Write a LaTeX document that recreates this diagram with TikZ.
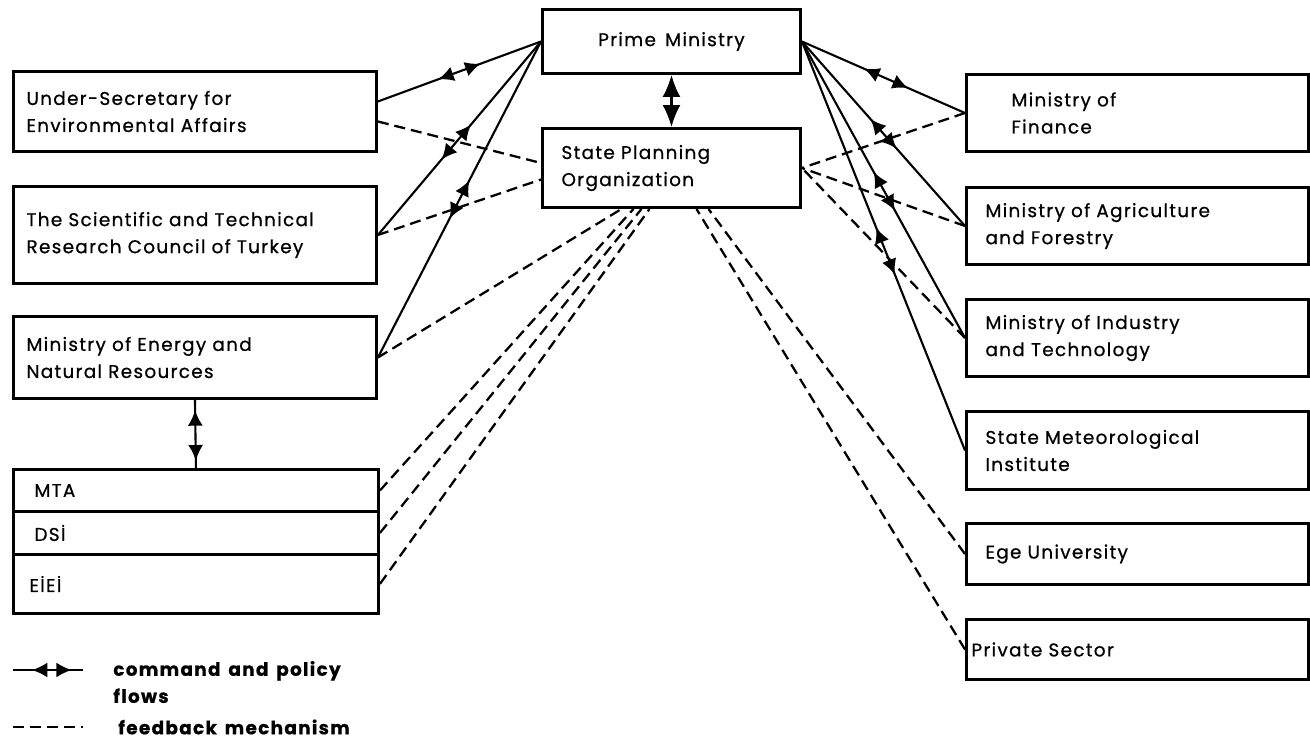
\documentclass[tikz,border=0pt]{standalone}
\usepackage{fontspec}
\setmainfont{Poppins}[LetterSpace=7,WordSpace=1.5,FakeBold=0.7]
\usetikzlibrary{arrows.meta,decorations.markings}

\tikzset{
  box/.style={draw,line width=1.7pt,rectangle,anchor=north west,align=left,
    font=\fontsize{10.5}{15.4}\selectfont,inner ysep=0pt},
  lbox/.style={box,minimum width=7.26cm,text width=6.74cm,inner xsep=0.26cm},
  rbox/.style={box,minimum width=6.84cm,text width=6.08cm,inner xsep=0.38cm},
  conn/.style={line width=1.2pt},
  fb/.style={conn,line width=1.3pt,dash pattern=on 0.22cm off 0.12cm},
  cmd/.style 2 args={conn,postaction={decorate},decoration={markings,
    mark=at position #1 with {\arrowreversed{Latex[length=0.31cm,width=0.3cm]}},
    mark=at position #2 with {\arrow{Latex[length=0.31cm,width=0.3cm]}}}},
  legtxt/.style={font=\fontsize{10.5}{15.4}\selectfont\bfseries,align=left,inner sep=0pt}
}

\begin{document}
\begin{tikzpicture}[x=0.02cm,y=-0.02cm]
\useasboundingbox (0,0) rectangle (1310,740);

\node[box,minimum width=5.16cm,minimum height=1.28cm,align=center] (pm) at (541,8) {Prime Ministry};
\node[box,minimum width=5.16cm,minimum height=1.58cm,text width=4.4cm,inner xsep=0.38cm] (spo) at (541,127) {State Planning\\Organization};

\node[lbox,minimum height=1.6cm] (us) at (12,70) {Under-Secretary for\\Environmental Affairs};
\node[lbox,minimum height=1.94cm] (stc) at (12,185) {The Scientific and Technical\\Research Council of Turkey};
\node[lbox,minimum height=1.64cm] (mene) at (12,315) {Ministry of Energy and\\Natural Resources};

\node[box,minimum width=7.3cm,minimum height=0.84cm,text width=6.46cm,inner xsep=0.42cm] (mta) at (12,468) {MTA};
\node[box,minimum width=7.3cm,minimum height=0.86cm,text width=6.46cm,inner xsep=0.42cm] (dsi) at (12,510) {DSİ};
\node[box,minimum width=7.3cm,minimum height=1.18cm,text width=6.66cm,inner xsep=0.32cm] (eiei) at (12,553) {EİEİ};

\node[rbox,minimum height=1.54cm,text width=5.04cm,inner xsep=0.9cm] (fin) at (965,73) {Ministry of\\Finance};
\node[rbox,minimum height=1.54cm] (agr) at (965,186) {Ministry of Agriculture\\and Forestry};
\node[rbox,minimum height=1.54cm] (ind) at (965,298) {Ministry of Industry\\and Technology};
\node[rbox,minimum height=1.56cm] (met) at (965,410) {State Meteorological\\Institute};
\node[rbox,minimum height=1.22cm] (ege) at (965,522) {Ege University};
\node[rbox,minimum height=1.2cm,text width=6.64cm,inner xsep=0.1cm] (prv) at (965,618) {Private Sector};

% command and policy flows
\draw[conn,{Latex[length=0.44cm,width=0.36cm]}-{Latex[length=0.44cm,width=0.36cm]}] (spo.north) -- (pm.south);
\draw[cmd={0.37}{0.63}] ([yshift=0.2cm]us.east) -- (pm.west);
\draw[cmd={0.39}{0.57}] (stc.east) -- (pm.west);
\draw[cmd={0.44}{0.56}] (mene.east) -- (pm.west);
\draw[cmd={0.35}{0.62}] (fin.west) -- (pm.east);
\draw[cmd={0.42}{0.58}] (agr.west) -- (pm.east);
\draw[cmd={0.43}{0.56}] (ind.west) -- (pm.east);
\draw[cmd={0.43}{0.545}] (met.west) -- (pm.east);
\draw[cmd={0.11}{0.85}] (mta.north) -- (mene.south);

% feedback
\draw[fb] ([yshift=-0.2cm]us.east) -- ([yshift=0.1cm]spo.west);
\draw[fb] (stc.east) -- ([yshift=-0.23cm]spo.west);
\draw[fb] (mene.east) -- ([xshift=-1.0cm]spo.south);
\draw[fb] (mta.east) -- ([xshift=-0.76cm]spo.south);
\draw[fb] (dsi.east) -- ([xshift=-0.6cm]spo.south);
\draw[fb] (eiei.east) -- ([xshift=-0.44cm]spo.south);
\draw[fb] (fin.west) -- (spo.east);
\draw[fb] (agr.west) -- (spo.east);
\draw[fb] (ind.west) -- (spo.east);
\draw[fb] (ege.west) -- ([xshift=0.74cm]spo.south);
\draw[fb] (prv.west) -- ([xshift=0.5cm]spo.south);

% legend
\coordinate (lga) at (13,670);
\coordinate (lgb) at (83,670);
\draw[cmd={0.27}{0.84}] (lga) -- (lgb);
\node[legtxt,anchor=west] (lgt) at (113,682) {command and policy\\flows};
\coordinate (lgc) at (13,727);
\coordinate (lgd) at (83,727);
\draw[fb] (lgc) -- (lgd);
\node[legtxt,anchor=west] (lgu) at (118,727) {feedback mechanism};
\end{tikzpicture}
\end{document}
